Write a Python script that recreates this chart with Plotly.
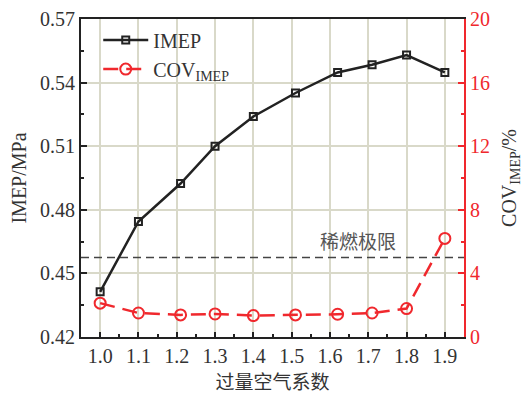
import plotly.graph_objects as go

# Data
lam = [1.0, 1.1, 1.21, 1.3, 1.4, 1.51, 1.62, 1.71, 1.8, 1.9]
imep = [0.4413, 0.4745, 0.4924, 0.5100, 0.5240, 0.5351, 0.5448, 0.5484, 0.5530, 0.5448]
cov = [2.13, 1.51, 1.39, 1.45, 1.35, 1.39, 1.43, 1.51, 1.79, 6.2]
lean_limit = 5.0
lean_label = "稀燃极限"

RED = "#f0282d"
SERIF = "Liberation Serif, Times New Roman, Noto Sans CJK SC, serif"
GRID = "#d9d9c9"

fig = go.Figure()
fig.add_trace(go.Scatter(
    x=lam, y=imep, name="IMEP", mode="lines+markers",
    line=dict(color="#222222", width=2.5),
    marker=dict(symbol="square-open", size=7, color="#222222", line=dict(width=2, color="#222222")),
))
fig.add_trace(go.Scatter(
    x=lam, y=cov, name="COV<sub>IMEP</sub>", mode="lines+markers", yaxis="y2",
    line=dict(color=RED, width=2.5, dash="15px,8px"),
    marker=dict(symbol="circle-open", size=11, color=RED, line=dict(width=2, color=RED)),
))

fig.add_shape(type="line", xref="paper", yref="y2", x0=0, x1=1, y0=lean_limit, y1=lean_limit,
              line=dict(color="#444444", width=1.5, dash="8px,5px"))
fig.add_annotation(x=1.672, y=lean_limit, xref="x", yref="y2", text=lean_label, showarrow=False,
                   yanchor="bottom", yshift=2,
                   font=dict(family="Noto Sans CJK SC", size=19, color="#555555"))

fig.update_layout(
    width=525, height=394,
    margin=dict(l=81, r=61, t=19, b=57),
    paper_bgcolor="white", plot_bgcolor="white",
    font=dict(family=SERIF, size=20, color="#333333"),
    showlegend=True,
    legend=dict(x=0.045, y=0.995, xanchor="left", yanchor="top", bgcolor="rgba(0,0,0,0)",
                itemwidth=45,
                font=dict(family=SERIF, size=20, color="#333333"), tracegroupgap=0),
    xaxis=dict(
        range=[0.95, 1.95], dtick=0.1, tick0=1.0, tickformat=".1f", automargin=False,
        ticks="inside", ticklen=5, tickcolor="#222222", tickwidth=1.5,
        minor=dict(dtick=0.05, ticks="inside", ticklen=3, tickcolor="#222222", showgrid=False),
        showline=True, linecolor="#222222", linewidth=2, mirror=True,
        showgrid=True, gridcolor=GRID, gridwidth=1.5, zeroline=False,
        title=dict(text="过量空气系数", font=dict(family="Noto Sans CJK SC", size=19, color="#333333"), standoff=10),
        tickfont=dict(family=SERIF, size=20, color="#333333"),
    ),
    yaxis=dict(
        range=[0.42, 0.57], dtick=0.03, tick0=0.42, tickformat=".2f", automargin=False,
        ticks="inside", ticklen=6, tickcolor="#222222", tickwidth=1.5,
        minor=dict(dtick=0.015, ticks="inside", ticklen=3, tickcolor="#222222", showgrid=False),
        showline=True, linecolor="#222222", linewidth=2,
        showgrid=True, gridcolor=GRID, gridwidth=1.5, zeroline=False,
        title=dict(text="IMEP/MPa", font=dict(family=SERIF, size=20, color="#333333"), standoff=8),
        tickfont=dict(family=SERIF, size=20, color="#333333"),
    ),
    yaxis2=dict(
        overlaying="y", side="right", automargin=False,
        range=[0, 20], dtick=4, tick0=0,
        ticks="inside", ticklen=6, tickcolor=RED, tickwidth=1.5,
        minor=dict(dtick=2, ticks="inside", ticklen=3, tickcolor=RED, showgrid=False),
        showline=True, linecolor=RED, linewidth=2,
        showgrid=False, zeroline=False,
        title=dict(text="COV<sub>IMEP</sub>/%", font=dict(family=SERIF, size=20, color="#333333"), standoff=13),
        tickfont=dict(family=SERIF, size=20, color=RED),
    ),
)

fig.write_html("out.html")
